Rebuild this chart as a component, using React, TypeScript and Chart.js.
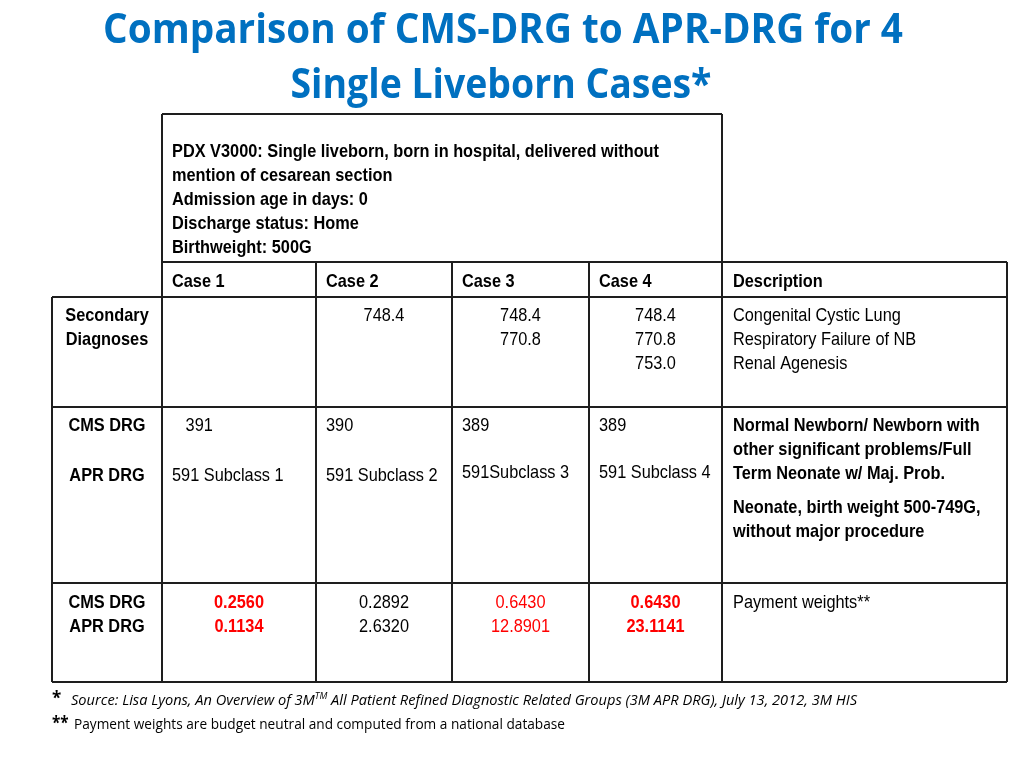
import React, { useEffect, useRef } from "react";
import { Chart, registerables } from "chart.js";

Chart.register(...registerables);

// ---------- data ----------
const titleLines = ["Comparison of CMS-DRG to APR-DRG for 4", "Single Liveborn Cases*"];
const pdxLines = [
  "PDX V3000: Single liveborn, born in hospital, delivered without",
  "mention of cesarean section",
  "Admission age in days: 0",
  "Discharge status: Home",
  "Birthweight: 500G",
];
const caseLabels = ["Case 1", "Case 2", "Case 3", "Case 4"];
const descriptionHeader = "Description";
const rowHeaders = [
  ["Secondary", "Diagnoses"],
  ["CMS DRG", "APR DRG"],
  ["CMS DRG", "APR DRG"],
];
const secondaryDx = [[], ["748.4"], ["748.4", "770.8"], ["748.4", "770.8", "753.0"]];
const secondaryDesc = ["Congenital Cystic Lung", "Respiratory Failure of NB", "Renal Agenesis"];
const cmsDrg = ["   391", "390", "389", "389"];
const aprDrg = ["591 Subclass 1", "591 Subclass 2", "591Subclass 3", "591 Subclass 4"];
const cmsDrgDesc = ["Normal Newborn/ Newborn with", "other significant problems/Full", "Term Neonate w/ Maj. Prob."];
const aprDrgDesc = ["Neonate, birth weight 500-749G,", "without major procedure"];
const cmsWeights = [0.256, 0.2892, 0.643, 0.643];
const aprWeights = [0.1134, 2.632, 12.8901, 23.1141];
const weightRed = [true, false, true, true];
const weightBold = [true, false, false, true];
const weightDesc = "Payment weights**";
const footnote1 = ["Source: Lisa Lyons, An Overview of 3M", "TM", " All Patient Refined Diagnostic Related Groups (3M APR DRG), July 13, 2012, 3M HIS"];
const footnote2 = "Payment weights are budget neutral and computed from a national database";

// ---------- layout (in scale units) ----------
const colEdges = [52, 162, 316, 452, 589, 722, 1007];
const rowEdges = [114, 262, 297, 407, 583, 682];
const titleWidths = [800, 421];

const TABLE_FONT = '"Liberation Sans", Arial, sans-serif';
const TITLE_FONT = '"Open Sans", sans-serif';
const NOTE_FONT = '"Open Sans", sans-serif';
const RED = "#ff0000";
const BLUE = "#0070c0";
const TSIZE = 19;

const tablePlugin = {
  id: "slideTable",
  afterDraw(chart: any) {
    const { ctx, scales } = chart;
    const xs = scales.x;
    const ys = scales.y;
    const X = (v: number) => xs.getPixelForValue(v);
    const Y = (v: number) => ys.getPixelForValue(v);

    // narrow calibration for table text
    ctx.save();
    ctx.font = `bold ${TSIZE}px ${TABLE_FONT}`;
    const kTable = 487 / ctx.measureText(pdxLines[0]).width;
    ctx.font = `bold 42px ${TITLE_FONT}`;
    const kTitles = titleLines.map((l, i) => titleWidths[i] / ctx.measureText(l).width);
    ctx.restore();

    const txt = (
      s: string,
      xv: number,
      yv: number,
      opts: { bold?: boolean; color?: string; align?: CanvasTextAlign; size?: number; italic?: boolean; family?: string; k?: number } = {}
    ) => {
      ctx.save();
      ctx.font = `${opts.italic ? "italic " : ""}${opts.bold ? "bold " : ""}${opts.size ?? TSIZE}px ${opts.family ?? TABLE_FONT}`;
      ctx.fillStyle = opts.color ?? "#000";
      ctx.textBaseline = "alphabetic";
      ctx.textAlign = opts.align ?? "left";
      ctx.translate(X(xv), Y(yv));
      ctx.scale(opts.k ?? kTable, 1);
      ctx.fillText(s, 0, 0);
      ctx.restore();
    };

    // title
    txt(titleLines[0], 503, 43, { bold: true, size: 42, color: BLUE, align: "center", family: TITLE_FONT, k: kTitles[0] });
    txt(titleLines[1], 501, 98, { bold: true, size: 42, color: BLUE, align: "center", family: TITLE_FONT, k: kTitles[1] });

    // grid lines
    ctx.save();
    ctx.strokeStyle = "#1e1e1e";
    ctx.lineWidth = 2;
    const line = (x1: number, y1: number, x2: number, y2: number) => {
      ctx.beginPath();
      ctx.moveTo(X(x1), Y(y1));
      ctx.lineTo(X(x2), Y(y2));
      ctx.stroke();
    };
    line(colEdges[1], rowEdges[0], colEdges[5], rowEdges[0]);
    line(colEdges[1], rowEdges[1], colEdges[6], rowEdges[1]);
    for (let r = 2; r < rowEdges.length; r++) line(colEdges[0], rowEdges[r], colEdges[6], rowEdges[r]);
    line(colEdges[0], rowEdges[2], colEdges[0], rowEdges[5]);
    line(colEdges[1], rowEdges[0], colEdges[1], rowEdges[5]);
    line(colEdges[5], rowEdges[0], colEdges[5], rowEdges[5]);
    for (let c = 2; c <= 4; c++) line(colEdges[c], rowEdges[1], colEdges[c], rowEdges[5]);
    line(colEdges[6], rowEdges[1], colEdges[6], rowEdges[5]);
    ctx.restore();

    const LH = 24;
    const padL = 10;
    const colCenter = (c: number) => (colEdges[c] + colEdges[c + 1]) / 2;

    // PDX block
    pdxLines.forEach((l, i) => txt(l, colEdges[1] + padL, 157 + i * LH, { bold: true }));

    // header row
    caseLabels.forEach((l, i) => txt(l, colEdges[i + 1] + padL, 287, { bold: true }));
    txt(descriptionHeader, colEdges[5] + 11, 287, { bold: true });

    // row headers
    rowHeaders[0].forEach((l, i) => txt(l, colCenter(0), 321 + i * LH, { bold: true, align: "center" }));
    txt(rowHeaders[1][0], colCenter(0), 431, { bold: true, align: "center" });
    txt(rowHeaders[1][1], colCenter(0), 481, { bold: true, align: "center" });
    rowHeaders[2].forEach((l, i) => txt(l, colCenter(0), 608 + i * LH, { bold: true, align: "center" }));

    // secondary diagnoses
    secondaryDx.forEach((codes, c) =>
      codes.forEach((code, i) => txt(code, colCenter(c + 1), 321 + i * LH, { align: "center" }))
    );
    secondaryDesc.forEach((l, i) => txt(l, colEdges[5] + 11, 321 + i * LH));

    // DRG row
    cmsDrg.forEach((d, c) => txt(d, colEdges[c + 1] + padL, 431));
    aprDrg.forEach((d, c) => txt(d, colEdges[c + 1] + padL, c < 2 ? 481 : 478));
    cmsDrgDesc.forEach((l, i) => txt(l, colEdges[5] + 11, 431 + i * LH, { bold: true }));
    aprDrgDesc.forEach((l, i) => txt(l, colEdges[5] + 11, 513 + i * LH, { bold: true }));

    // weights row
    cmsWeights.forEach((w, c) => {
      const o = { align: "center" as CanvasTextAlign, bold: weightBold[c], color: weightRed[c] ? RED : "#000" };
      txt(w.toFixed(4), colCenter(c + 1), 608, o);
      txt(aprWeights[c].toFixed(4), colCenter(c + 1), 632, o);
    });
    txt(weightDesc, colEdges[5] + 11, 608);

    // footnotes
    ctx.save();
    ctx.font = `italic 14px ${NOTE_FONT}`;
    const w0 = ctx.measureText(footnote1[0]).width;
    const w2 = ctx.measureText(footnote1[2]).width;
    ctx.font = `italic 9px ${NOTE_FONT}`;
    const w1 = ctx.measureText(footnote1[1]).width;
    ctx.font = `14px ${NOTE_FONT}`;
    const wf2 = ctx.measureText(footnote2).width;
    ctx.restore();
    const kNote = 786 / (w0 + w1 + w2);
    txt("*", 52, 704, { bold: true, size: 17, family: NOTE_FONT, k: 1 });
    txt(footnote1[0], 71, 705, { italic: true, size: 14, family: NOTE_FONT, k: kNote });
    txt(footnote1[1], 71 + w0 * kNote, 699, { italic: true, size: 9, family: NOTE_FONT, k: kNote });
    txt(footnote1[2], 71 + (w0 + w1) * kNote, 705, { italic: true, size: 14, family: NOTE_FONT, k: kNote });
    txt("**", 52, 729, { bold: true, size: 17, family: NOTE_FONT, k: 0.9 });
    txt(footnote2, 74, 729, { size: 14, family: NOTE_FONT, k: 491 / wf2 });
  },
};

export default function App() {
  const ref = useRef<HTMLCanvasElement | null>(null);
  useEffect(() => {
    if (!ref.current) return;
    const chart = new Chart(ref.current, {
      type: "scatter",
      data: { datasets: [] },
      options: {
        animation: false,
        responsive: false,
        layout: { padding: 0 },
        plugins: { legend: { display: false }, tooltip: { enabled: false }, title: { display: false } },
        scales: {
          x: { type: "linear", min: 0, max: 1024, display: false },
          y: { type: "linear", min: 0, max: 768, reverse: true, display: false },
        },
      },
      plugins: [tablePlugin],
    });
    return () => chart.destroy();
  }, []);
  return (
    <div style={{ position: "absolute", left: 0, top: 0, width: 1024, height: 768, background: "#fff" }}>
      <canvas ref={ref} width={1024} height={768} />
    </div>
  );
}
